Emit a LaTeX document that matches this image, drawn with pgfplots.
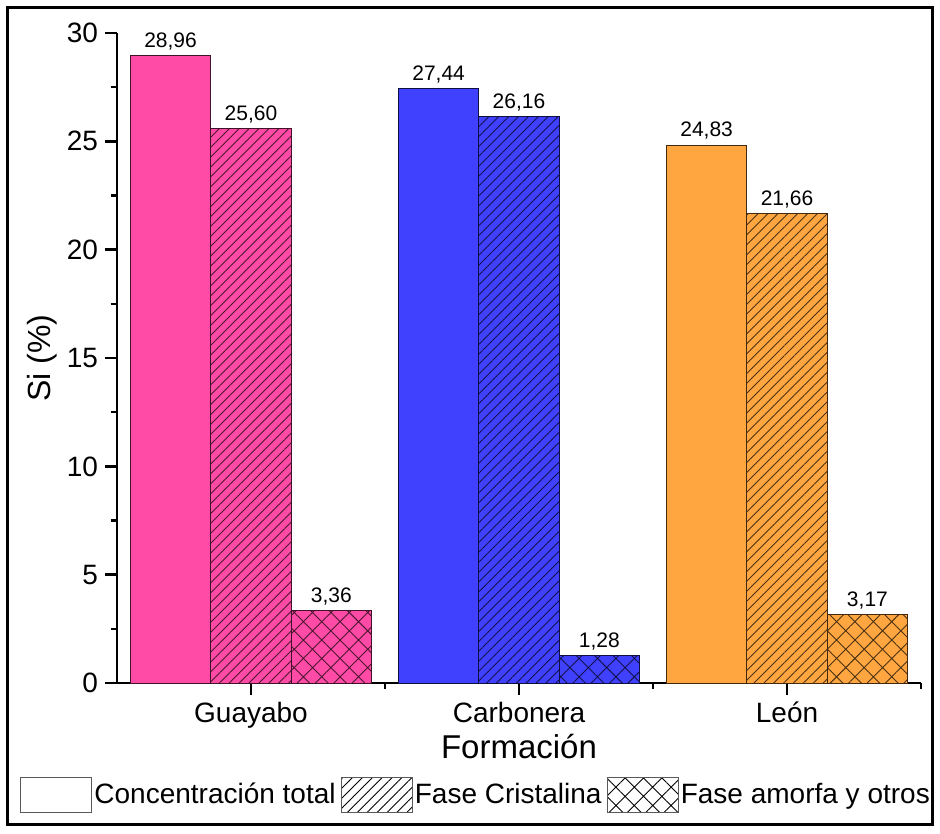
\documentclass[border=0pt]{standalone}
\usepackage{pgfplots}
\pgfplotsset{compat=1.18}
\usepackage{fontspec}
\setmainfont{Liberation Sans}
\usetikzlibrary{patterns.meta}
\definecolor{cpink}{RGB}{255,75,165}
\definecolor{cblue}{RGB}{64,64,255}
\definecolor{corange}{RGB}{255,166,64}
\tikzset{
  hatchA/.style={postaction={pattern={Lines[angle=45,distance=3.5bp,line width=0.45bp]}, pattern color=#1}},
  hatchB/.style={postaction={pattern={Hatch[angle=45,distance=6.5bp,line width=0.45bp]}, pattern color=#1}},
}
\newcommand{\lbl}{\pgfmathprintnumber[fixed,fixed zerofill,precision=2,use comma,assume math mode=true]{\pgfplotspointmeta}}
\begin{document}
\begin{tikzpicture}
\begin{axis}[
  scale only axis,
  width=402bp, height=325bp,
  xmin=0.5, xmax=3.5, ymin=0, ymax=30,
  axis x line=bottom, axis y line=left,
  axis line style={-, line width=1.25bp},
  clip=false,
  xtick={1,2,3},
  xticklabels={Guayabo,Carbonera,León},
  minor xtick={1.5,2.5,3.5},
  ytick={0,5,10,15,20,25,30},
  minor ytick={2.5,7.5,12.5,17.5,22.5,27.5},
  tick align=outside,
  major tick length=6bp, minor tick length=3.2bp,
  every tick/.style={black, line width=1.25bp},
  tick label style={font=\fontsize{14bp}{16bp}\selectfont, /pgf/number format/assume math mode=true},
  xlabel={Formación},
  ylabel={Si (\%)},
  xlabel style={font=\fontsize{16.5bp}{19bp}\selectfont, yshift=4bp},
  ylabel style={font=\fontsize{16bp}{19bp}\selectfont, yshift=-2bp},
  nodes near coords=\lbl,
  every node near coord/.append style={font=\fontsize{10.5bp}{12bp}\selectfont, text=black, anchor=south, inner sep=2.5bp},
  legend columns=3,
  legend style={draw=none, fill=none, at={(rel axis cs:0.4465,-0.172)}, anchor=center,
    font=\fontsize{14bp}{16bp}\selectfont,
    /tikz/every even column/.append style={column sep=1.5bp},
    inner xsep=0pt, nodes={inner xsep=1pt}},
]
\addlegendimage{legend image code/.code={\draw[draw=gray!70!black, line width=0.6bp, fill=white] (0bp,-8.75bp) rectangle (35.5bp,8.75bp);}}
\addlegendentry{Concentración total}
\addlegendimage{legend image code/.code={\draw[draw=gray!70!black, line width=0.6bp, fill=white, hatchA=black] (0bp,-8.75bp) rectangle (35.5bp,8.75bp);}}
\addlegendentry{Fase Cristalina}
\addlegendimage{legend image code/.code={\draw[draw=gray!70!black, line width=0.6bp, fill=white, hatchB=black] (0bp,-8.75bp) rectangle (35.5bp,8.75bp);}}
\addlegendentry{Fase amorfa y otros}
% Guayabo
\addplot[ybar, bar width=0.3, bar shift=0, fill=cpink, draw=cpink!25!black, line width=0.5bp, forget plot] coordinates {(0.7,28.96)};
\addplot[ybar, bar width=0.3, bar shift=0, fill=cpink, draw=cpink!25!black, line width=0.5bp, hatchA=cpink!30!black, forget plot] coordinates {(1.0,25.60)};
\addplot[ybar, bar width=0.3, bar shift=0, fill=cpink, draw=cpink!25!black, line width=0.5bp, hatchB=cpink!30!black, forget plot] coordinates {(1.3,3.36)};
% Carbonera
\addplot[ybar, bar width=0.3, bar shift=0, fill=cblue, draw=cblue!25!black, line width=0.5bp, forget plot] coordinates {(1.7,27.44)};
\addplot[ybar, bar width=0.3, bar shift=0, fill=cblue, draw=cblue!25!black, line width=0.5bp, hatchA=cblue!30!black, forget plot] coordinates {(2.0,26.16)};
\addplot[ybar, bar width=0.3, bar shift=0, fill=cblue, draw=cblue!25!black, line width=0.5bp, hatchB=cblue!30!black, forget plot] coordinates {(2.3,1.28)};
% Leon
\addplot[ybar, bar width=0.3, bar shift=0, fill=corange, draw=corange!25!black, line width=0.5bp, forget plot] coordinates {(2.7,24.83)};
\addplot[ybar, bar width=0.3, bar shift=0, fill=corange, draw=corange!25!black, line width=0.5bp, hatchA=corange!30!black, forget plot] coordinates {(3.0,21.66)};
\addplot[ybar, bar width=0.3, bar shift=0, fill=corange, draw=corange!25!black, line width=0.5bp, hatchB=corange!30!black, forget plot] coordinates {(3.3,3.17)};
% outer frame
\draw[line width=1.5bp] (rel axis cs:-0.1356,1.04) rectangle (rel axis cs:1.0137,-0.2169);
\path (rel axis cs:-0.1455,1.0508) rectangle (rel axis cs:1.0236,-0.2308);
\end{axis}
\end{tikzpicture}
\end{document}
